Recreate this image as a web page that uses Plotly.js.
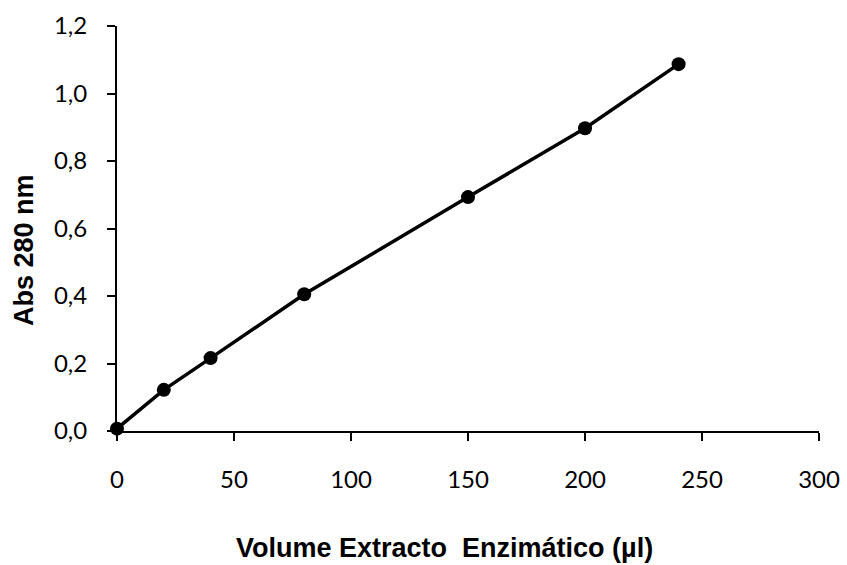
<!DOCTYPE html>
<html>
<head>
<meta charset="utf-8">
<script src="https://cdn.plot.ly/plotly-3.0.1.min.js"></script>
<style>html,body{margin:0;padding:0;background:#fff;}#chart{width:847px;height:565px;}</style>
</head>
<body>
<div id="chart"></div>
<script>
const volume = [0, 20, 40, 80, 150, 200, 240];
const absorbance = [0.007, 0.122, 0.216, 0.405, 0.693, 0.897, 1.087];
const xTicks = [0, 50, 100, 150, 200, 250, 300];
const yTicks = [0, 0.2, 0.4, 0.6, 0.8, 1.0, 1.2];
const xTitle = 'Volume Extracto  Enzimático (µl)';
const yTitle = 'Abs 280 nm';

const trace = {
  x: volume, y: absorbance, type: 'scatter', mode: 'lines+markers',
  line: {color: '#000', width: 3.5},
  marker: {color: '#000', size: 14},
  cliponaxis: false, hoverinfo: 'none'
};
const tickFont = {family: 'Lato, "Open Sans", sans-serif', size: 24, color: '#000'};
const titleFont = {family: '"Liberation Sans", Arial, sans-serif', color: '#000', weight: 'bold'};
const layout = {
  width: 847, height: 565,
  margin: {l: 117, r: 28, t: 26, b: 134},
  paper_bgcolor: '#fff', plot_bgcolor: '#fff',
  separators: ',.',
  showlegend: false,
  xaxis: {
    range: [0, 300], tickvals: xTicks, ticktext: xTicks.map(String),
    showgrid: false, zeroline: false, showline: true, linecolor: '#000', linewidth: 2,
    ticks: 'outside', ticklen: 8, tickwidth: 2, tickcolor: '#000',
    tickfont: tickFont, ticklabelstandoff: 18
  },
  yaxis: {
    range: [0, 1.2], tickvals: yTicks, tickformat: '.1f',
    showgrid: false, zeroline: false, showline: true, linecolor: '#000', linewidth: 2,
    ticks: 'outside', ticklen: 8, tickwidth: 2, tickcolor: '#000',
    tickfont: tickFont, ticklabelstandoff: 15
  },
  annotations: [
    {text: xTitle, xref: 'paper', yref: 'paper', x: 0.467, y: -0.288,
     xanchor: 'center', yanchor: 'middle', showarrow: false,
     font: Object.assign({size: 27}, titleFont)},
    {text: yTitle, xref: 'paper', yref: 'paper', x: -0.1325, y: 0.447,
     xanchor: 'center', yanchor: 'middle', showarrow: false, textangle: -90,
     font: Object.assign({size: 27}, titleFont)}
  ]
};
Plotly.newPlot('chart', [trace], layout, {staticPlot: true, displayModeBar: false});
</script>
</body>
</html>
